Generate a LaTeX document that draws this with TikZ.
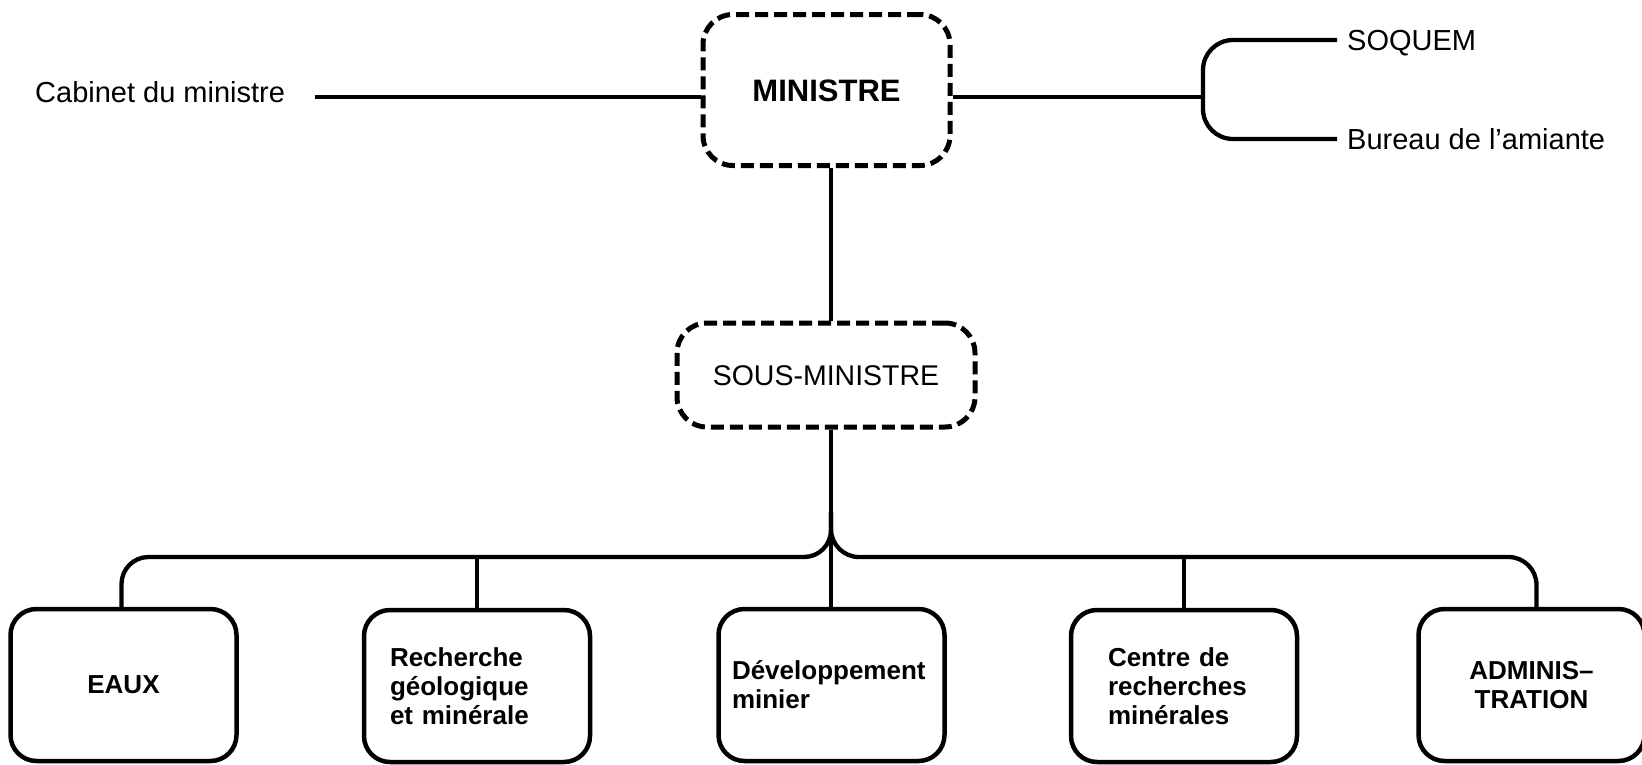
\documentclass[tikz,border=0pt]{standalone}
\usepackage{fontspec}
\setmainfont{Liberation Sans}
\begin{document}
\begin{tikzpicture}[x=1pt,y=-1pt,
  lbl/.style={inner sep=0pt, anchor=west, font=\fontsize{29}{34}\selectfont, text height=20.8pt, text depth=0pt},
  dbox/.style={draw, line width=5pt, dash pattern=on 13pt off 6pt, rounded corners=30pt, inner sep=0pt},
  obox/.style={draw, line width=4.5pt, rounded corners=26pt, minimum width=226pt, minimum height=152pt, inner sep=0pt, font=\fontsize{26}{29}\selectfont\bfseries},
  conn/.style={line width=4.3pt}]
\useasboundingbox (0,0) rectangle (1642,764);

% top level
\node[dbox, minimum width=247pt, minimum height=151pt, font=\fontsize{31}{36}\selectfont\bfseries, text height=22.2pt, text depth=0pt] (min) at (826.5,90) {MINISTRE};
\node[dbox, minimum width=298pt, minimum height=104pt, font=\fontsize{28.5}{34}\selectfont, text height=20.4pt, text depth=0pt] (sous) at (826,375) {SOUS-MINISTRE};

\node[lbl] (cab) at (35,92) {Cabinet du ministre};
\node[lbl] (soq) at (1347,40) {SOQUEM};
\node[lbl] (bur) at (1347,139) {Bureau de l’amiante};

% bottom boxes
\node[obox, align=center] (eaux) at (123.5,685) {EAUX};
\node[obox, align=left, text width=174pt] (rech) at (477,686) {Recherche\\géologique\\et minérale};
\node[obox, align=left, text width=199pt] (dev) at (831.5,685) {Développement\\minier};
\node[obox, align=left, text width=152pt] (cent) at (1184,686) {Centre de\\recherches\\minérales};
\node[obox, align=center] (adm) at (1531.5,685) {ADMINIS–\\TRATION};

% coordinates
\coordinate (mrow) at (0,97);
\coordinate (br) at (1203,97);
\coordinate (bus) at (831,557);

% connectors, top
\draw[conn] ([xshift=30pt]cab.east |- mrow) -- (min.west |- mrow);
\draw[conn] (min.east |- mrow) -- (br);
\draw[conn, rounded corners=30pt] ([xshift=-10pt]soq.west) -| (br |- bur.west) -- ([xshift=-10pt]bur.west);
\draw[conn] (min.south -| bus) -- (sous.north -| bus);
\draw[conn] (sous.south -| bus) -- (bus |- dev.north);

% bus
\draw[conn, rounded corners=27pt] ([xshift=-2pt]eaux.north) -- ([xshift=-2pt]eaux.north |- bus) -- (bus) -- ([yshift=45pt]bus);
\draw[conn, rounded corners=28pt] ([xshift=5pt]adm.north) -- ([xshift=5pt]adm.north |- bus) -- (bus) -- ([yshift=45pt]bus);
\draw[conn] (rech.north) -- (rech.north |- bus);
\draw[conn] (cent.north) -- (cent.north |- bus);
\end{tikzpicture}
\end{document}
